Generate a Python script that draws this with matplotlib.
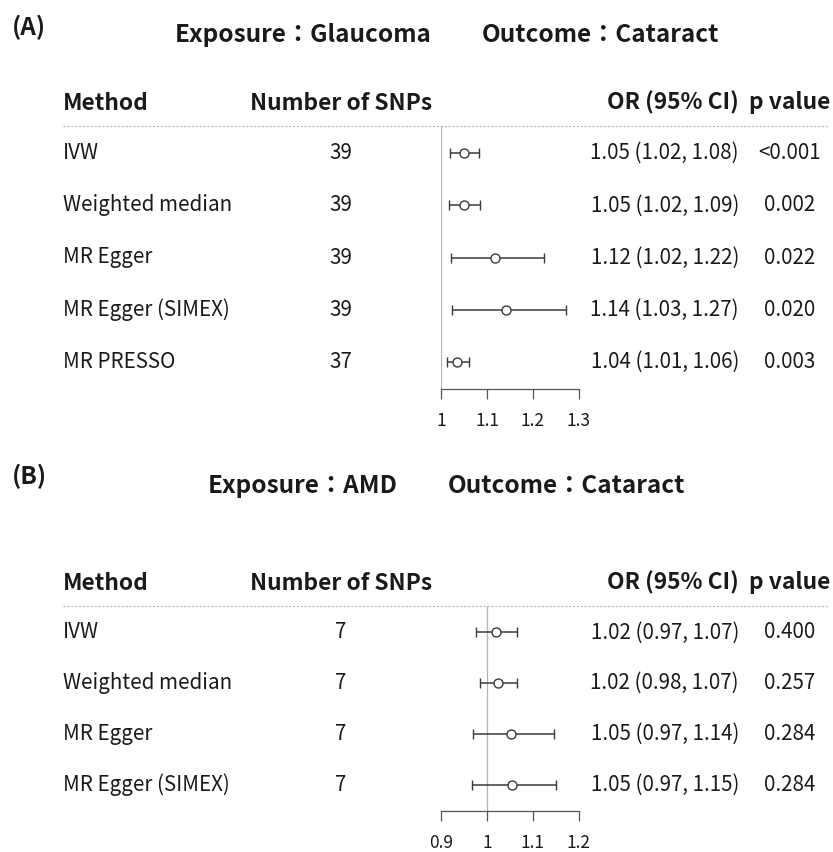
import matplotlib
matplotlib.use("Agg")
import matplotlib.pyplot as plt
from matplotlib.lines import Line2D
from matplotlib import transforms

plt.rcParams['font.family'] = ['Noto Sans CJK TC', 'DejaVu Sans']

# ---------------- data ----------------
methods_a = ["IVW", "Weighted median", "MR Egger", "MR Egger (SIMEX)", "MR PRESSO"]
nsnp_a = ["39", "39", "39", "39", "37"]
or_a = [1.051, 1.051, 1.118, 1.142, 1.035]
lo_a = [1.020, 1.017, 1.021, 1.025, 1.012]
hi_a = [1.082, 1.085, 1.223, 1.271, 1.060]
ortext_a = ["1.05 (1.02, 1.08)", "1.05 (1.02, 1.09)", "1.12 (1.02, 1.22)",
            "1.14 (1.03, 1.27)", "1.04 (1.01, 1.06)"]
p_a = ["<0.001", "0.002", "0.022", "0.020", "0.003"]
ticks_a = [1, 1.1, 1.2, 1.3]
ticklabels_a = ["1", "1.1", "1.2", "1.3"]

methods_b = ["IVW", "Weighted median", "MR Egger", "MR Egger (SIMEX)"]
nsnp_b = ["7", "7", "7", "7"]
or_b = [1.020, 1.025, 1.053, 1.054]
lo_b = [0.975, 0.984, 0.969, 0.968]
hi_b = [1.066, 1.066, 1.145, 1.149]
ortext_b = ["1.02 (0.97, 1.07)", "1.02 (0.98, 1.07)", "1.05 (0.97, 1.14)",
            "1.05 (0.97, 1.15)"]
p_b = ["0.400", "0.257", "0.284", "0.284"]
ticks_b = [0.9, 1, 1.1, 1.2]
ticklabels_b = ["0.9", "1", "1.1", "1.2"]

# ---------------- layout ----------------
W, H = 833, 852
fig = plt.figure(figsize=(W / 100, H / 100), dpi=100)
fig.patch.set_facecolor("white")

def fx(x):
    return x / W

def fy(y):
    return 1 - y / H

TXT = "#1a1a1a"
BAR = "#3a3a3a"
FS = 14.8
HFS = 16.4
TFS = 17.5
TICKFS = 12.5

def panel(label, exp_text, out_text, exp_x, out_x, title_y, label_y, header_y,
          top, bottom, xlim, methods, nsnp, est, lo, hi, ortext, pvals, ticks, ticklabels):
    ax = fig.add_axes([fx(441), fy(bottom), fx(579) - fx(441), (bottom - top) / H])
    n = len(methods)
    idx = list(range(n))
    ax.set_xlim(*xlim)
    ax.set_ylim(n - 1 + 0.52, -0.52)
    ax.axvline(1, color="#b5b5b5", lw=0.9, zorder=1)
    ax.errorbar(est, idx, xerr=[[e - l for e, l in zip(est, lo)], [h - e for e, h in zip(est, hi)]],
                fmt="o", mfc="white", mec=BAR, ecolor=BAR, color=BAR, ms=6.5, mew=1.0,
                elinewidth=1.1, capsize=3.8, capthick=1.1, zorder=3)
    for s in ["left", "top", "right"]:
        ax.spines[s].set_visible(False)
    ax.spines["bottom"].set_color("#555555")
    ax.spines["bottom"].set_linewidth(0.9)
    ax.set_yticks([])
    ax.set_xticks(ticks)
    ax.set_xticklabels(ticklabels, fontsize=TICKFS, color=TXT)
    ax.tick_params(axis="x", direction="out", length=7.5, width=0.9, color="#555555", pad=9)
    ax.patch.set_alpha(0)

    tr = transforms.blended_transform_factory(fig.transFigure, ax.transData)
    for i in idx:
        fig.text(fx(63), i, methods[i], transform=tr, fontsize=FS, color=TXT, va="center", ha="left")
        fig.text(fx(341), i, nsnp[i], transform=tr, fontsize=FS, color=TXT, va="center", ha="center")
        fig.text(fx(739), i, ortext[i], transform=tr, fontsize=FS, color=TXT, va="center", ha="right")
        fig.text(fx(790), i, pvals[i], transform=tr, fontsize=FS, color=TXT, va="center", ha="center")

    # headers
    fig.text(fx(63), fy(header_y), "Method", fontsize=HFS, weight="bold", color=TXT, va="center", ha="left")
    fig.text(fx(341), fy(header_y), "Number of SNPs", fontsize=HFS, weight="bold", color=TXT, va="center", ha="center")
    fig.text(fx(739), fy(header_y), "OR (95% CI)", fontsize=HFS, weight="bold", color=TXT, va="center", ha="right")
    fig.text(fx(790), fy(header_y), "p value", fontsize=HFS, weight="bold", color=TXT, va="center", ha="center")

    # dashed separator
    fig.add_artist(Line2D([fx(63), fx(829)], [fy(top), fy(top)], color="#b0b0b0",
                          lw=0.8, ls=(0, (2, 1.5))))

    # titles
    fig.text(fx(12), fy(label_y), label, fontsize=TFS, weight="bold", color=TXT, va="center", ha="left")
    fig.text(fx(exp_x), fy(title_y), exp_text, fontsize=TFS, weight="bold", color=TXT, va="center", ha="left")
    fig.text(fx(out_x), fy(title_y), out_text, fontsize=TFS, weight="bold", color=TXT, va="center", ha="left")
    return ax

panel("(A)", "Exposure：Glaucoma", "Outcome：Cataract", 175, 482, 35, 27, 103,
      126, 389, (1.0, 1.3), methods_a, nsnp_a, or_a, lo_a, hi_a, ortext_a, p_a, ticks_a, ticklabels_a)
panel("(B)", "Exposure：AMD", "Outcome：Cataract", 208, 448, 486, 476, 583,
      606, 811, (0.9, 1.2), methods_b, nsnp_b, or_b, lo_b, hi_b, ortext_b, p_b, ticks_b, ticklabels_b)

fig.savefig("out.png", dpi=100, facecolor="white")
